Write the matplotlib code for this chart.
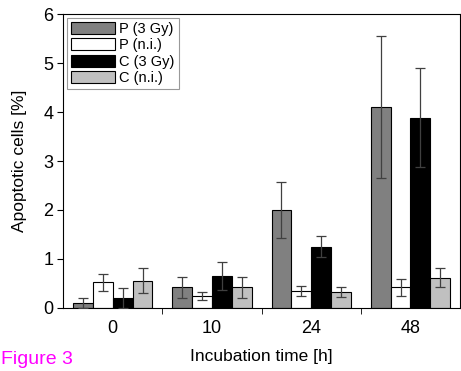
import numpy as np
import matplotlib.pyplot as plt
from matplotlib.ticker import FixedLocator

# incubation time groups
groups = ["0", "10", "24", "48"]
series = ["P (3 Gy)", "P (n.i.)", "C (3 Gy)", "C (n.i.)"]
colors = ["#808080", "#ffffff", "#000000", "#c0c0c0"]

# mean apoptotic cells [%] per series
p_3gy = [0.10, 0.42, 2.00, 4.10]
p_ni = [0.52, 0.24, 0.35, 0.42]
c_3gy = [0.20, 0.65, 1.25, 3.88]
c_ni = [0.56, 0.42, 0.32, 0.62]
# error bar half-heights
p_3gy_err = [0.10, 0.21, 0.58, 1.45]
p_ni_err = [0.17, 0.08, 0.10, 0.18]
c_3gy_err = [0.20, 0.28, 0.22, 1.01]
c_ni_err = [0.26, 0.21, 0.10, 0.20]

values = [p_3gy, p_ni, c_3gy, c_ni]
errors = [p_3gy_err, p_ni_err, c_3gy_err, c_ni_err]

plt.rcParams['font.family'] = ['Liberation Sans', 'DejaVu Sans']

fig = plt.figure(figsize=(4.61, 3.71), dpi=100)
ax = fig.add_axes([0.137, 0.170, 0.861, 0.792])

x = np.arange(len(groups))
w = 0.2
for i in range(4):
    pos = x - 0.3 + i * w
    ax.bar(pos, values[i], w, color=colors[i], edgecolor="black", linewidth=0.8,
           label=series[i], zorder=2)
    ax.errorbar(pos, values[i], yerr=errors[i], fmt="none", ecolor="#404040",
                elinewidth=0.9, capsize=3.5, capthick=0.9, zorder=3)

ax.set_xlim(-0.5, 3.5)
ax.set_ylim(0, 6)
ax.set_xticks(x)
ax.set_xticklabels(groups, fontsize=13)
ax.xaxis.set_minor_locator(FixedLocator([0.5, 1.5, 2.5]))
ax.tick_params(axis="x", which="major", length=0, pad=9)
ax.tick_params(axis="x", which="minor", length=4, direction="out")
ax.set_yticks([0, 1, 2, 3, 4, 5, 6])
ax.tick_params(axis="y", labelsize=13, length=4, direction="out", pad=3)
ax.set_ylabel("Apoptotic cells [%]", fontsize=12.5, labelpad=12)
ax.set_xlabel("Incubation time [h]", fontsize=12.5, labelpad=8)

leg = ax.legend(loc="upper left", fontsize=10.5, frameon=True, fancybox=False,
                handlelength=3.0, handleheight=0.9, handletextpad=0.3,
                labelspacing=0.15, borderpad=0.3, borderaxespad=0.25)
leg.get_frame().set_edgecolor("#808080")
leg.get_frame().set_linewidth(0.8)

fig.text(0.002, 0.02, "Figure 3", color="#ff00ff", fontsize=14)

fig.savefig("out.png", dpi=100)
